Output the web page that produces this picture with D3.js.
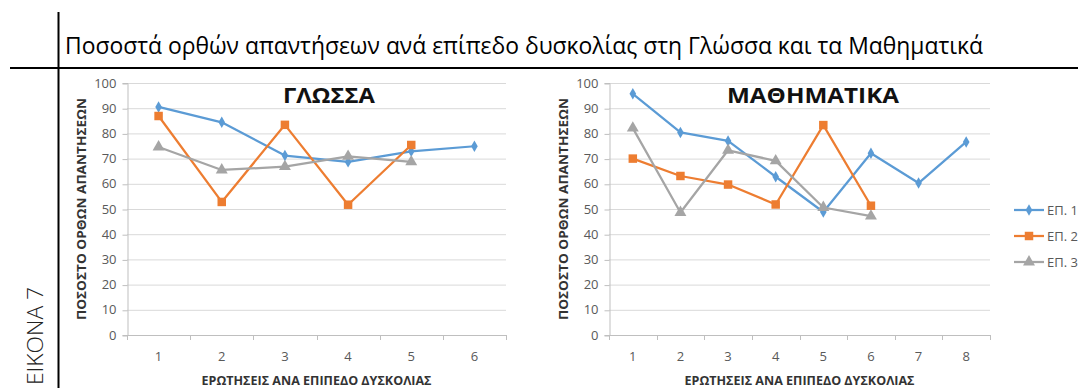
<!DOCTYPE html>
<html>
<head>
<meta charset="utf-8">
<script src="https://cdn.jsdelivr.net/npm/d3@7"></script>
<style>
  html, body { margin: 0; padding: 0; background: #fff; }
  svg { display: block; font-family: "Open Sans", "Noto Sans", sans-serif; }
</style>
</head>
<body>
<svg id="fig" width="1078" height="388"></svg>
<script>
// Percentage of correct answers per difficulty level (ΕΠ. 1–3)
const seriesNames = ["ΕΠ. 1", "ΕΠ. 2", "ΕΠ. 3"];
const yTicks = [0, 10, 20, 30, 40, 50, 60, 70, 80, 90, 100];

const glossaQuestions = ["1", "2", "3", "4", "5", "6"];
const glossaEp1 = [90.5, 84.4, 71.2, 68.7, 72.9, 74.9];
const glossaEp2 = [86.9, 52.8, 83.4, 51.7, 75.4];
const glossaEp3 = [74.6, 65.5, 66.8, 70.9, 68.7];

const mathQuestions = ["1", "2", "3", "4", "5", "6", "7", "8"];
const mathEp1 = [95.7, 80.4, 77.0, 62.8, 48.8, 72.1, 60.3, 76.6];
const mathEp2 = [70.0, 63.1, 59.7, 51.8, 83.3, 51.3];
const mathEp3 = [82.1, 48.6, 73.3, 69.1, 50.6, 47.2];

const colors = ["#5b9bd5", "#ed7d31", "#a5a5a5"];
const symbols = [d3.symbolDiamond, d3.symbolSquare, d3.symbolTriangle];
const symbolSizes = [38, 72, 62];

const svg = d3.select("#fig");

// page frame: vertical rule and horizontal rule under the heading
svg.append("line").attr("x1", 58.5).attr("x2", 58.5).attr("y1", 12).attr("y2", 388)
  .attr("stroke", "#000").attr("stroke-width", 2);
svg.append("line").attr("x1", 10).attr("x2", 1078).attr("y1", 68).attr("y2", 68)
  .attr("stroke", "#000").attr("stroke-width", 2);

// heading
svg.append("text")
  .attr("x", 65).attr("y", 54)
  .attr("font-size", 23.5)
  .attr("fill", "#000")
  .attr("textLength", 918).attr("lengthAdjust", "spacingAndGlyphs")
  .text("Ποσοστά ορθών απαντήσεων ανά επίπεδο δυσκολίας στη Γλώσσα και τα Μαθηματικά");

// side caption
svg.append("text")
  .attr("transform", "translate(43,385) rotate(-90)")
  .attr("font-size", 22).attr("font-weight", 300)
  .attr("fill", "#222")
  .attr("textLength", 98).attr("lengthAdjust", "spacingAndGlyphs")
  .text("ΕΙΚΟΝΑ 7");

function drawChart(opts) {
  const { left, right, top, bottom, title, titleX, titleLen, categories, series, yTitleX } = opts;
  const g = svg.append("g");

  const x = d3.scaleBand().domain(categories).range([left, right]).padding(0);
  const y = d3.scaleLinear().domain([0, 100]).range([bottom, top]);

  // horizontal gridlines
  g.append("g").selectAll("line").data(yTicks.filter(v => v > 0)).join("line")
    .attr("x1", left).attr("x2", right)
    .attr("y1", d => y(d) + 0.5).attr("y2", d => y(d) + 0.5)
    .attr("stroke", "#d9d9d9").attr("stroke-width", 1);

  // y axis
  const yAxis = g.append("g").attr("transform", `translate(${left + 0.5},0)`)
    .call(d3.axisLeft(y).tickValues(yTicks).tickSize(5).tickPadding(6));
  yAxis.select(".domain").attr("stroke", "#bfbfbf");
  yAxis.selectAll(".tick line").attr("stroke", "#bfbfbf").attr("transform", "translate(0,0.5)");
  yAxis.selectAll(".tick text").attr("font-size", 13).attr("fill", "#595959")
    .attr("font-family", "Open Sans, sans-serif");

  // x axis: labels centred in each category, ticks on category boundaries
  const xAxis = g.append("g").attr("transform", `translate(0,${bottom + 0.5})`)
    .call(d3.axisBottom(x).tickSize(0).tickPadding(16));
  xAxis.select(".domain").remove();
  xAxis.selectAll(".tick text").attr("font-size", 13).attr("fill", "#595959")
    .attr("font-family", "Open Sans, sans-serif");
  g.append("line").attr("x1", left).attr("x2", right)
    .attr("y1", bottom + 0.5).attr("y2", bottom + 0.5).attr("stroke", "#bfbfbf");
  const bounds = categories.map(c => x(c)).concat([right]);
  g.append("g").selectAll("line").data(bounds).join("line")
    .attr("x1", d => Math.round(d) + 0.5).attr("x2", d => Math.round(d) + 0.5)
    .attr("y1", bottom).attr("y2", bottom + 5)
    .attr("stroke", "#bfbfbf");

  // axis titles
  g.append("text")
    .attr("x", (left + right) / 2).attr("y", bottom + 50)
    .attr("text-anchor", "middle").attr("font-size", 12).attr("font-weight", 700)
    .attr("fill", "#333")
    .attr("textLength", 230).attr("lengthAdjust", "spacingAndGlyphs")
    .text("ΕΡΩΤΗΣΕΙΣ ΑΝΑ ΕΠΙΠΕΔΟ ΔΥΣΚΟΛΙΑΣ");
  g.append("text")
    .attr("transform", `translate(${yTitleX},${(top + bottom) / 2}) rotate(-90)`)
    .attr("text-anchor", "middle").attr("font-size", 11.5).attr("font-weight", 700)
    .attr("fill", "#333")
    .attr("textLength", 222).attr("lengthAdjust", "spacingAndGlyphs")
    .text("ΠΟΣΟΣΤΟ ΟΡΘΩΝ ΑΠΑΝΤΗΣΕΩΝ");

  // chart title
  g.append("text")
    .attr("x", titleX).attr("y", top + 20)
    .attr("text-anchor", "middle").attr("font-size", 21).attr("font-weight", 700)
    .attr("fill", "#111")
    .attr("textLength", titleLen).attr("lengthAdjust", "spacingAndGlyphs")
    .text(title);

  // series lines and markers
  const line = d3.line()
    .x((d, i) => x(categories[i]) + x.bandwidth() / 2)
    .y(d => y(d));
  series.forEach((vals, si) => {
    g.append("path").datum(vals)
      .attr("d", line)
      .attr("fill", "none").attr("stroke", colors[si]).attr("stroke-width", 2.25)
      .attr("stroke-linejoin", "round");
    g.append("g").selectAll("path").data(vals).join("path")
      .attr("transform", (d, i) => `translate(${x(categories[i]) + x.bandwidth() / 2},${y(d)})`)
      .attr("d", d3.symbol().type(symbols[si]).size(symbolSizes[si]))
      .attr("fill", colors[si]);
  });
}

drawChart({
  left: 127, right: 506, top: 83, bottom: 335,
  title: "ΓΛΩΣΣΑ", titleX: 329, titleLen: 92,
  categories: glossaQuestions,
  series: [glossaEp1, glossaEp2, glossaEp3],
  yTitleX: 86
});

drawChart({
  left: 609, right: 990, top: 83, bottom: 335,
  title: "ΜΑΘΗΜΑΤΙΚΑ", titleX: 813, titleLen: 172,
  categories: mathQuestions,
  series: [mathEp1, mathEp2, mathEp3],
  yTitleX: 568
});

// legend
const legendY = [210, 236, 262];
const legend = svg.append("g");
seriesNames.forEach((name, i) => {
  const row = legend.append("g").attr("transform", `translate(0,${legendY[i]})`);
  row.append("line").attr("x1", 1014).attr("x2", 1044).attr("y1", 0).attr("y2", 0)
    .attr("stroke", colors[i]).attr("stroke-width", 2.25);
  row.append("path").attr("transform", "translate(1029,0)")
    .attr("d", d3.symbol().type(symbols[i]).size(symbolSizes[i]))
    .attr("fill", colors[i]);
  row.append("text").attr("x", 1047).attr("y", 4.5)
    .attr("font-size", 13).attr("fill", "#595959")
    .text(name);
});
</script>
</body>
</html>
